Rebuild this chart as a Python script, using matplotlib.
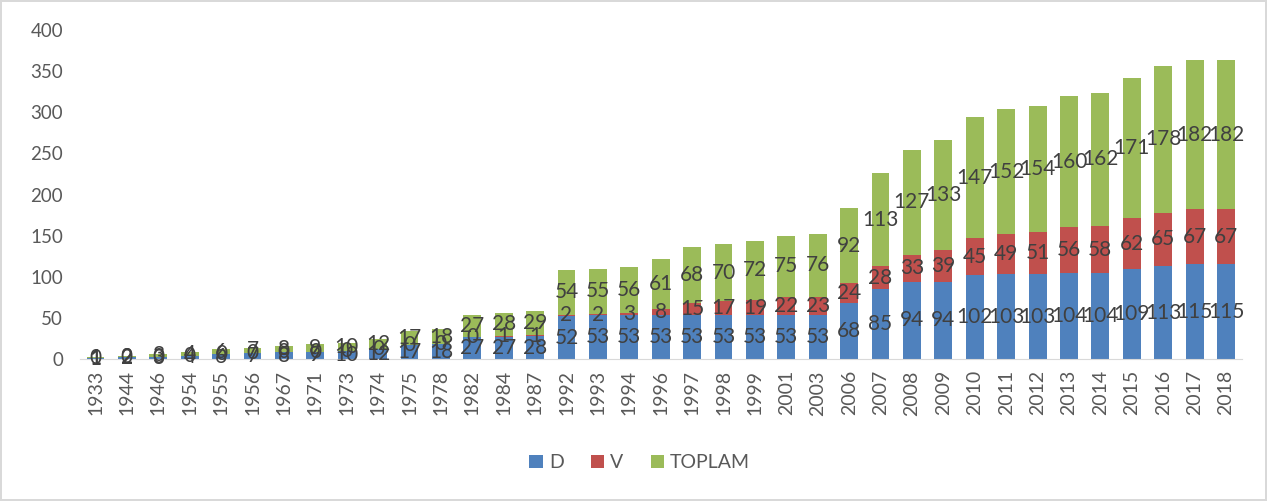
import numpy as np
import matplotlib
matplotlib.use('Agg')
import matplotlib.pyplot as plt

years = ['1933', '1944', '1946', '1954', '1955', '1956', '1967', '1971', '1973', '1974',
         '1975', '1978', '1982', '1984', '1987', '1992', '1993', '1994', '1996', '1997',
         '1998', '1999', '2001', '2003', '2006', '2007', '2008', '2009', '2010', '2011',
         '2012', '2013', '2014', '2015', '2016', '2017', '2018']
d_vals = [1, 2, 3, 4, 6, 7, 8, 9, 10, 12, 17, 18, 27, 27, 28, 52, 53, 53, 53, 53,
          53, 53, 53, 53, 68, 85, 94, 94, 102, 103, 103, 104, 104, 109, 113, 115, 115]
v_vals = [0, 0, 0, 0, 0, 0, 0, 0, 0, 0, 0, 0, 0, 1, 1, 2, 2, 3, 8, 15,
          17, 19, 22, 23, 24, 28, 33, 39, 45, 49, 51, 56, 58, 62, 65, 67, 67]
toplam = [1, 2, 3, 4, 6, 7, 8, 9, 10, 12, 17, 18, 27, 28, 29, 54, 55, 56, 61, 68,
          70, 72, 75, 76, 92, 113, 127, 133, 147, 152, 154, 160, 162, 171, 178, 182, 182]

plt.rcParams['font.family'] = ['Lato', 'DejaVu Sans']

fig = plt.figure(figsize=(12.67, 5.01), dpi=100)
fig.patch.set_edgecolor('#d9d9d9')
fig.patch.set_linewidth(1.5)
ax = fig.add_axes([0.063, 0.2834, 0.917, 0.6566])

x = np.arange(len(years))
d = np.array(d_vals)
v = np.array(v_vals)
t = np.array(toplam)
w = 0.57

b1 = ax.bar(x, d, w, color='#4f81bd', label='D')
b2 = ax.bar(x, v, w, bottom=d, color='#c0504d', label='V')
b3 = ax.bar(x, t, w, bottom=d + v, color='#9bbb59', label='TOPLAM')

for bars in (b1, b2, b3):
    ax.bar_label(bars, label_type='center', fontsize=15, color='#404040')

ax.set_xlim(-0.5, len(years) - 0.5)
ax.set_ylim(0, 400)
ax.set_yticks(range(0, 401, 50))
ax.set_xticks(x)
ax.set_xticklabels(years, rotation=90)
ax.tick_params(axis='both', length=0, colors='#595959')
ax.tick_params(axis='y', pad=12, labelsize=13.5)
ax.tick_params(axis='x', pad=8, labelsize=14)
for s in ['top', 'right', 'left']:
    ax.spines[s].set_visible(False)
ax.spines['bottom'].set_color('#d9d9d9')

fig.legend(handles=[b1, b2, b3], loc='center', bbox_to_anchor=(0.505, 0.076), ncol=3,
           frameon=False, fontsize=14, handlelength=0.7, handleheight=0.7,
           columnspacing=1.4, handletextpad=0.3, labelcolor='#595959')

fig.savefig('out.png', dpi=100)
